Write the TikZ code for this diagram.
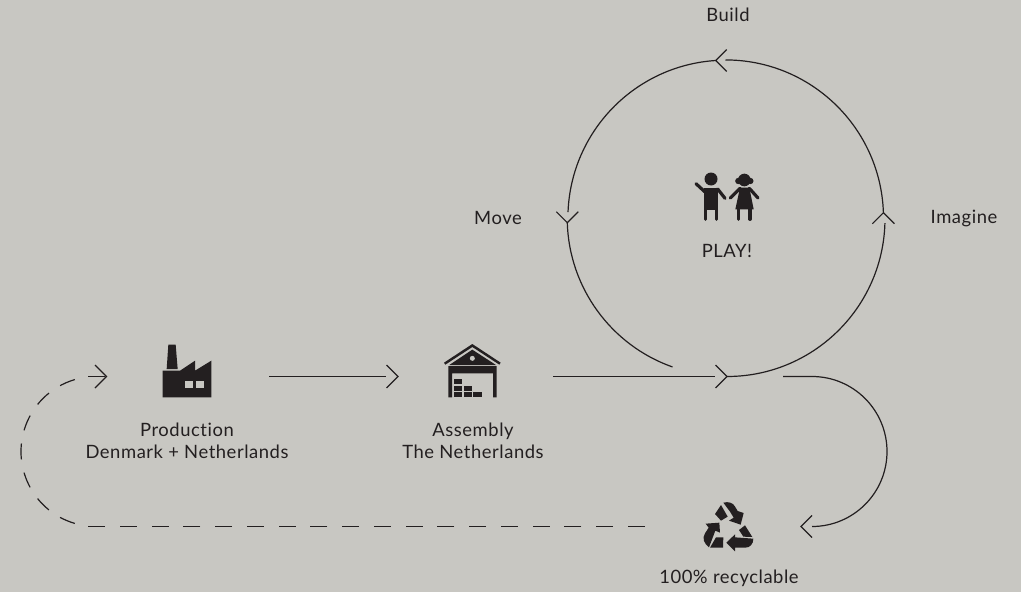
\documentclass[tikz,border=0pt]{standalone}
\usepackage{fontspec}
\setmainfont[LetterSpace=3,Ligatures=NoCommon]{Lato}
\definecolor{bgc}{HTML}{C8C7C2}
\definecolor{ink}{HTML}{231F20}
\tikzset{
  conn/.style={ink,line width=.9pt},
  dashstraight/.style={conn,dash pattern=on 12.75pt off 11.07pt},
  dashbend/.style={conn,dash pattern=on 12pt off 10.09pt},
  lbl/.style={text=ink,font=\fontsize{13.8}{16.5}\selectfont,inner sep=0pt,align=center},
  iconfill/.style={fill=ink,draw=none},
  limb/.style={ink,line width=2.4pt,line cap=round},
  zoomed/.style={x=.25pt,y=-.25pt}
}
\begin{document}
\begin{tikzpicture}[x=.75pt,y=-.75pt]
\useasboundingbox (0,0) rectangle (1021,592);
\fill[bgc] (0,0) rectangle (1021,592);
% labels
\node[lbl] (build) at (728,15) {Build};
\node[lbl] (imagine) at (964,218) {Imagine};
\node[lbl] (move) at (498,218) {Move};
\node[lbl] (play) at (727,251) {PLAY!};
\node[lbl] (prod) at (187,441) {Production\\Denmark + Netherlands};
\node[lbl] (asm) at (473,441) {Assembly\\The Netherlands};
\node[lbl] (recy) at (729,578) {100\% recyclable};
% anchors
\coordinate (p1) at (269,376.5);
\coordinate (p2) at (386,376.5);
\coordinate (t2) at (398,376.5);
\coordinate (p3) at (553,376.5);
\coordinate (p4) at (715,376.5);
\coordinate (t4) at (727,376.5);
\coordinate (r1) at (783,376.5);
\coordinate (r2) at (812,376.5);
\coordinate (t3) at (801,526.5);
\coordinate (d1) at (645,526.5);
\coordinate (d2) at (88,526.5);
\coordinate (c0) at (96,451.5);
\coordinate (d3) at (88,376.5);
\coordinate (d4) at (105,376.5);
\coordinate (t5) at (106.5,376.5);
\coordinate (tR) at (883.4,212.7);
\coordinate (tT) at (715.7,60.5);
\coordinate (tL) at (567.3,222.7);
% straight connectors and bends
\draw[conn] (p1) -- (p2);
\draw[conn] (p3) -- (p4);
\draw[conn] (r1) -- (r2) arc[start angle=-90,end angle=90,radius=75];
\draw[dashstraight] (d1) -- (d2);
\draw[dashbend] (c0) ++(106.4:75) arc[start angle=106.4,end angle=253.6,radius=75];
\draw[conn] (d3) -- (d4);
% circle, from one chevron to the next
\draw[conn] (t4) arc[start angle=90,end angle=1.7,radius=158];
\draw[conn] (tR) arc[start angle=-1.9,end angle=-90,radius=158];
\draw[conn] (tT) arc[start angle=-93.7,end angle=-177.8,radius=158];
\draw[conn] (tL) arc[start angle=-181.7,end angle=-250.5,radius=158];
% chevrons
\foreach \t in {t2,t4,t5} \draw[conn] (\t) ++(-11.5,-11.5) -- (\t) -- ++(-11.5,11.5);
\draw[conn] (t3) ++(11,-11) -- (t3) -- ++(11,11);
\draw[conn] (tT) ++(11,-11) -- (tT) -- ++(11,11);
\draw[conn] (tR) ++(-11,11) -- (tR) -- ++(11,11);
\draw[conn] (tL) ++(-11,-11) -- (tL) -- ++(11,-11);
% children
\begin{scope}[shift={(660,150)},zoomed]
\fill[ink] (153,87) circle[radius=19.5];
\path[iconfill] (132,113) -- (175,113) -- (175,180) -- (132,180) -- cycle;
\draw[limb] (137,180) -- (137,208);
\draw[limb] (170,180) -- (170,208);
\draw[limb] (134,125) -- (108,101);
\draw[limb] (173,117) -- (195,145);
\fill[ink] (253,90) circle[radius=19];
\fill[ink] (235,93) circle[radius=9.5];
\fill[ink] (271,93) circle[radius=9.5];
\path[iconfill] (240,113) -- (268,113) -- (281,178) -- (226,178) -- cycle;
\draw[limb] (236,178) -- (236,208);
\draw[limb] (270,178) -- (270,208);
\draw[limb] (240,115) -- (211,144);
\draw[limb] (268,115) -- (294,144);
\end{scope}
% factory
\begin{scope}[shift={(130,330)},zoomed]
\path[iconfill] (115,44) -- (137,44) -- (143,117) -- (110,117) -- cycle;
\path[iconfill] (98,122) -- (150,122) -- (195,92) -- (195,122) -- (244,92) -- (244,202) -- (98,202) -- cycle;
\fill[bgc] (166,152) rectangle (188,174);
\fill[bgc] (199,152) rectangle (222,174);
\end{scope}
% warehouse
\begin{scope}[shift={(420,330)},zoomed]
\path[iconfill] (72,98) -- (157,42) -- (242,98) -- (238,104) -- (157,51) -- (76,104) -- cycle;
\path[iconfill] (157,59) -- (228,105) -- (88,105) -- cycle;
\fill[bgc] (157,85) circle[radius=7.5];
\path[iconfill] (85,108) -- (230,108) -- (230,202) -- (219,202) -- (219,130) -- (96,130) -- (96,202) -- (85,202) -- cycle;
\foreach \a/\b in {102/148,102/168,132/168,102/187,132/187,160/187}
  \fill[ink] (\a,\b) rectangle ++(25,15);
\end{scope}
% recycling arrows
\begin{scope}[shift={(640,480)},zoomed]
\path[iconfill] (250,68) .. controls (265,64) and (278,68) .. (284,78) -- (293,93) -- (311,99) -- (302,134) -- (267,122) -- (281,113) -- (270,95) -- cycle;
\path[iconfill] (243,75) -- (263,110) -- (243,122) -- (225,102) -- cycle;
\path[iconfill] (315,136) -- (337,171) -- (310,170) -- (297,150) -- cycle;
\path[iconfill] (340,176) .. controls (340,192) and (330,203) .. (316,203) -- (285,203) -- (285,214) -- (259,188) -- (285,163) -- (285,172) -- cycle;
\path[iconfill] (238,128) -- (240,158) -- (226,152) -- (207,202) .. controls (193,192) and (185,175) .. (195,160) -- (206,143) -- (197,131) -- cycle;
\path[iconfill] (228,172) -- (250,172) -- (249,203) -- (210,203) -- cycle;
\end{scope}
\end{tikzpicture}
\end{document}
